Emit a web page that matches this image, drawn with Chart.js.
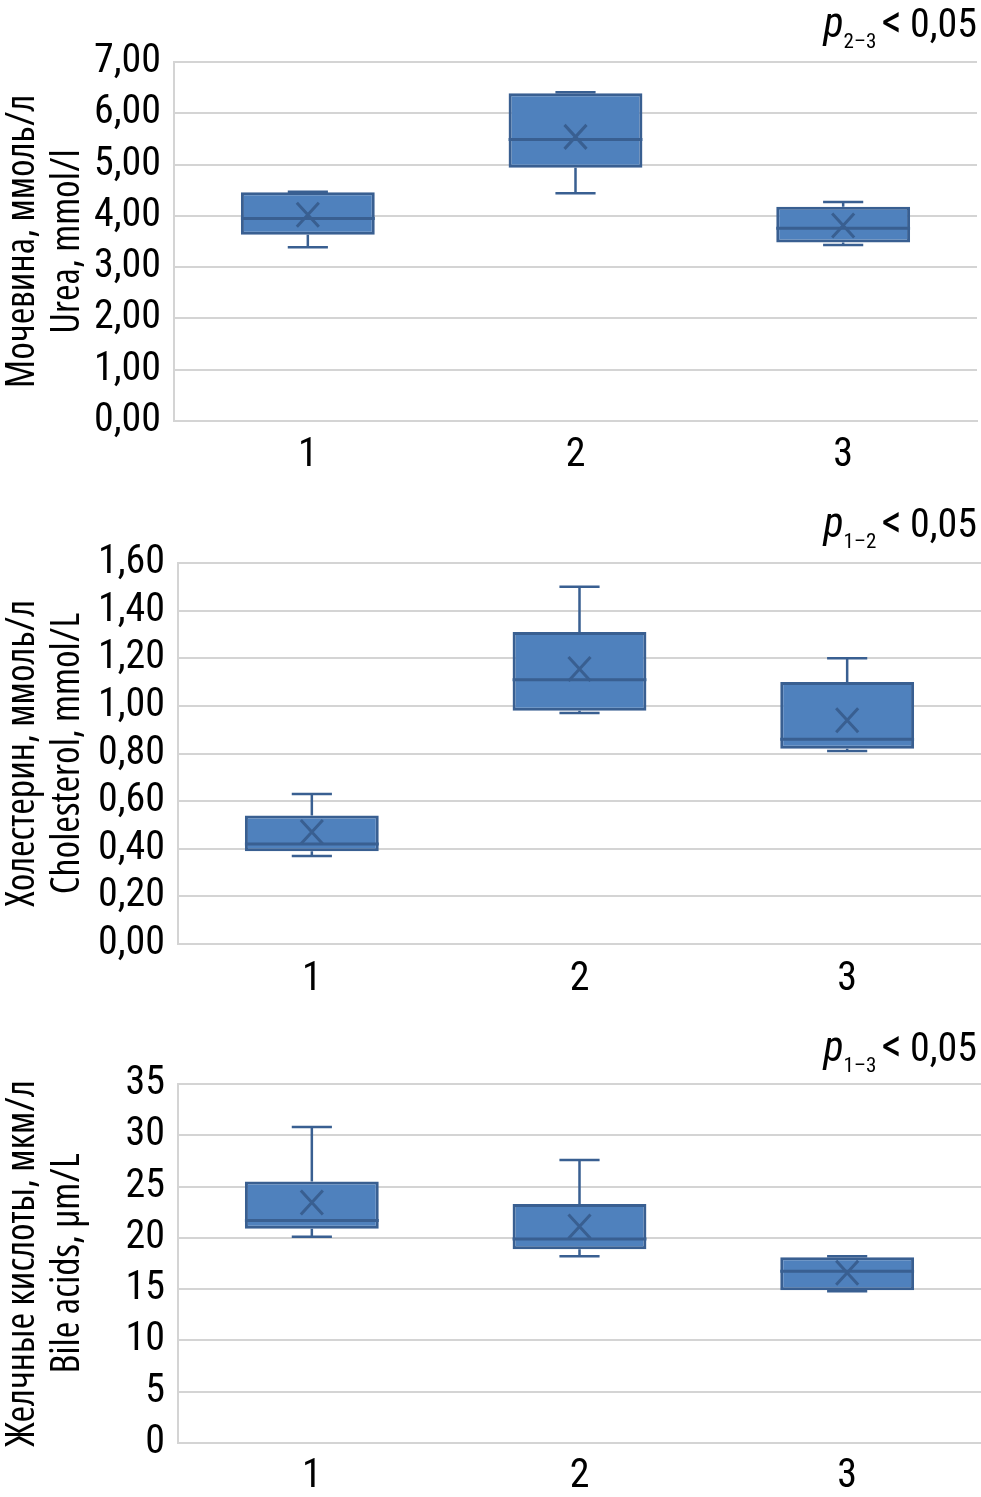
<!DOCTYPE html>
<html>
<head>
<meta charset="utf-8">
<script src="https://cdn.jsdelivr.net/npm/chart.js@4.4.0/dist/chart.umd.min.js"></script>
<style>
  body { margin: 0; background: #fff; width: 981px; height: 1497px; position: relative; overflow: hidden; }
  .wrap { position: absolute; left: 0; width: 981px; }
  .pval { position: absolute; right: 4px; font-family: 'Roboto Condensed', sans-serif; font-size: 40px; line-height: normal; color: #000; white-space: nowrap; }
  .pval i { font-size: 42px; }
  .pval sub { font-size: 21px; vertical-align: -11px; line-height: 0; }
  .pval .lt { font-size: 46px; line-height: 0; margin: 0 8px 0 5px; }
</style>
</head>
<body>
<div class="wrap" style="top:0;height:480px"><canvas id="c1"></canvas></div>
<div class="wrap" style="top:490px;height:510px"><canvas id="c2"></canvas></div>
<div class="wrap" style="top:1010px;height:487px"><canvas id="c3"></canvas></div>
<div class="pval" style="top:-2px"><i>p</i><sub>2–3</sub><span class="lt">&lt;</span>0,05</div>
<div class="pval" style="top:498px"><i>p</i><sub>1–2</sub><span class="lt">&lt;</span>0,05</div>
<div class="pval" style="top:1022px"><i>p</i><sub>1–3</sub><span class="lt">&lt;</span>0,05</div>
<script>
const groups = ["1", "2", "3"];

// Мочевина / Urea, mmol/l
const ureaMin    = [3.39, 4.44, 3.43];
const ureaQ1     = [3.63, 4.94, 3.48];
const ureaMedian = [3.95, 5.49, 3.76];
const ureaQ3     = [4.46, 6.39, 4.18];
const ureaMax    = [4.47, 6.41, 4.27];
const ureaMean   = [4.02, 5.54, 3.81];

// Холестерин / Cholesterol, mmol/L
const cholMin    = [0.37, 0.97, 0.81];
const cholQ1     = [0.39, 0.98, 0.82];
const cholMedian = [0.42, 1.11, 0.86];
const cholQ3     = [0.54, 1.31, 1.10];
const cholMax    = [0.63, 1.50, 1.20];
const cholMean   = [0.47, 1.155, 0.94];

// Желчные кислоты / Bile acids, µm/L
const bileMin    = [20.1, 18.2, 14.8];
const bileQ1     = [20.9, 18.9, 14.9];
const bileMedian = [21.7, 19.9, 16.75];
const bileQ3     = [25.5, 23.3, 18.1];
const bileMax    = [30.8, 27.6, 18.2];
const bileMean   = [23.45, 21.1, 16.6];

const tickFont = { family: "'Roboto Condensed', sans-serif", size: 40, lineHeight: 1.2 };
// weight slot carries the stretch keyword into the canvas font string
const titleFont = { family: "'Open Sans', sans-serif", size: 40, weight: "condensed", lineHeight: 1.12 };
const gridColor = "#d4d4d4";
const boxFill = "#4f81bd";
const lineColor = "#395f91";

// whiskers, median and mean cross
const boxPlot = {
  id: "boxPlot",
  afterDatasetsDraw(chart, args, opts) {
    const y = chart.scales.y;
    const ctx = chart.ctx;
    const bars = chart.getDatasetMeta(0).data;
    ctx.save();
    ctx.strokeStyle = lineColor;
    bars.forEach((bar, i) => {
      const x = bar.x, w = bar.width;
      const yMin = y.getPixelForValue(opts.min[i]);
      const yQ1 = y.getPixelForValue(opts.q1[i]);
      const yQ3 = y.getPixelForValue(opts.q3[i]);
      const yMax = y.getPixelForValue(opts.max[i]);
      const yMed = y.getPixelForValue(opts.median[i]);
      const yMean = y.getPixelForValue(opts.mean[i]);
      const cap = w * 0.15;
      ctx.lineWidth = 2.5;
      ctx.beginPath();
      ctx.moveTo(x, yQ3); ctx.lineTo(x, yMax);
      ctx.moveTo(x - cap, yMax); ctx.lineTo(x + cap, yMax);
      ctx.moveTo(x, yQ1); ctx.lineTo(x, yMin);
      ctx.moveTo(x - cap, yMin); ctx.lineTo(x + cap, yMin);
      ctx.stroke();
      ctx.lineWidth = 3;
      ctx.beginPath();
      ctx.moveTo(x - w / 2, yMed); ctx.lineTo(x + w / 2, yMed);
      ctx.stroke();
      const mx = 11, my = 12;
      ctx.beginPath();
      ctx.moveTo(x - mx, yMean - my); ctx.lineTo(x + mx, yMean + my);
      ctx.moveTo(x + mx, yMean - my); ctx.lineTo(x - mx, yMean + my);
      ctx.stroke();
    });
    ctx.restore();
  }
};

function makeChart(id, cfg) {
  return new Chart(document.getElementById(id), {
    type: "bar",
    data: {
      labels: groups,
      datasets: [{
        data: cfg.q1.map((v, i) => [v, cfg.q3[i]]),
        backgroundColor: boxFill,
        borderColor: lineColor,
        borderWidth: 3,
        borderSkipped: false,
        categoryPercentage: 1,
        barPercentage: 0.5
      }]
    },
    options: {
      responsive: true,
      maintainAspectRatio: false,
      animation: false,
      layout: { padding: { top: cfg.padTop, right: cfg.padRight, left: 0, bottom: 0 } },
      plugins: {
        legend: { display: false },
        tooltip: { enabled: false },
        boxPlot: { min: cfg.min, q1: cfg.q1, median: cfg.median, q3: cfg.q3, max: cfg.max, mean: cfg.mean }
      },
      scales: {
        x: {
          grid: { display: false, drawTicks: false },
          border: { display: true, color: gridColor, width: 2 },
          ticks: { color: "#000", font: tickFont, padding: cfg.xPad },
          afterFit(s) { s.height = cfg.xHeight; }
        },
        y: {
          min: 0, max: cfg.top,
          grid: { color: gridColor, lineWidth: 2, drawTicks: false },
          border: { display: true, color: gridColor, width: 2 },
          ticks: {
            stepSize: cfg.step, autoSkip: false, color: "#000", font: tickFont, padding: 13,
            callback: v => cfg.decimals ? v.toFixed(cfg.decimals).replace(".", ",") : String(v)
          },
          title: { display: true, text: cfg.title, color: "#000", font: titleFont, padding: 0 },
          afterFit(s) { s.width = cfg.yWidth; }
        }
      }
    },
    plugins: [boxPlot]
  });
}

makeChart("c1", {
  min: ureaMin, q1: ureaQ1, median: ureaMedian, q3: ureaQ3, max: ureaMax, mean: ureaMean,
  top: 7, step: 1, decimals: 2, title: ["Мочевина, ммоль/л", "Urea, mmol/l"],
  padTop: 62, padRight: 4, xHeight: 59, yWidth: 174, xPad: 11
});
makeChart("c2", {
  min: cholMin, q1: cholQ1, median: cholMedian, q3: cholQ3, max: cholMax, mean: cholMean,
  top: 1.6, step: 0.2, decimals: 2, title: ["Холестерин, ммоль/л", "Cholesterol, mmol/L"],
  padTop: 73, padRight: 0, xHeight: 56, yWidth: 178, xPad: 12
});
makeChart("c3", {
  min: bileMin, q1: bileQ1, median: bileMedian, q3: bileQ3, max: bileMax, mean: bileMean,
  top: 35, step: 5, decimals: 0, title: ["Желчные кислоты, мкм/л", "Bile acids, µm/L"],
  padTop: 74, padRight: 0, xHeight: 54, yWidth: 178, xPad: 10
});
</script>
</body>
</html>
